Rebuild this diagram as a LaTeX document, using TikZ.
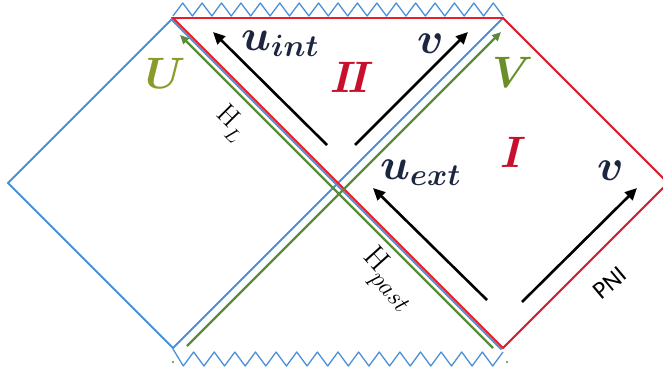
\RequirePackage{fix-cm}
\documentclass[tikz,border=0pt]{standalone}
\usepackage{fontspec}
\newfontfamily\carlito{Carlito}
\usetikzlibrary{arrows.meta}
\definecolor{pblue}{HTML}{4A90D9}
\definecolor{pred}{HTML}{E3202B}
\definecolor{pgreen}{HTML}{5A8A3C}
\definecolor{lnavy}{HTML}{1C2640}
\definecolor{lred}{HTML}{C8102E}
\definecolor{lolive}{HTML}{8C9A2C}
\definecolor{lgreen}{HTML}{6A8F2A}
\newcommand{\hsub}[2]{$\mathrm{H}$\raisebox{-0.32em}{\fontsize{#2}{#2}\selectfont$#1$}}
\tikzset{
  blueline/.style={pblue, line width=1.9pt},
  redline/.style={pred, line width=1.9pt, line join=miter},
  zig/.style={pblue, line width=1.3pt, line join=round},
  greenarrow/.style={pgreen, line width=2.3pt, -{Triangle[length=9pt,width=8pt]}},
  blackarrow/.style={black, line width=2.6pt, -{Triangle[length=12pt,width=11pt]}},
  lbl/.style={inner sep=0pt, anchor=base west},
  big/.style={font=\fontsize{44}{48}\selectfont\boldmath},
  hor/.style={inner sep=0pt},
}
\begin{document}
\begin{tikzpicture}[x=1pt,y=-1pt]
\useasboundingbox (0,0) rectangle (663,380);
\coordinate (L) at (8,183);
\coordinate (TL) at (173,18);
\coordinate (TR) at (503,18);
\coordinate (BL) at (173,348);
\coordinate (BR) at (503,348);
\coordinate (R) at (668,183);
% singularities
\draw[zig] (173,16) \foreach \k in {1,...,17} { -- ({173+(\k-0.5)*330/17},3) -- ({173+\k*330/17},16) };
\draw[zig] (173,349) \foreach \k in {1,...,16} { -- ({173+(\k-0.5)*20.625},366) -- ({173+\k*20.625},352) };
% blue Penrose diagram
\draw[blueline] (TL) -- (L) -- (BL) -- (TR) -- (R) -- (BR);
\draw[blueline] ([shift={(-1.5,1.5)}]TL) -- ([shift={(-1.5,1.5)}]BR);
% red region I + II
\draw[redline] (TL) -- (TR) -- (R) -- (BR) -- cycle;
% green horizons
\coordinate (U0) at (493,348);
\coordinate (U1) at (180,35);
\coordinate (V0) at (187,346);
\coordinate (V1) at (501,32);
\draw[greenarrow] (U0) -- (U1);
\draw[greenarrow] (V0) -- (V1);
\fill[pgreen] (173,362) circle (1.2);
\fill[pgreen] (507,362) circle (1.2);
% black arrows
\coordinate (a0) at (327,145); \coordinate (a1) at (213,32);
\coordinate (b0) at (355,145); \coordinate (b1) at (468,32);
\coordinate (c0) at (487,300); \coordinate (c1) at (373,188);
\coordinate (d0) at (522,302); \coordinate (d1) at (637,188);
\draw[blackarrow] (a0) -- (a1);
\draw[blackarrow] (b0) -- (b1);
\draw[blackarrow] (c0) -- (c1);
\draw[blackarrow] (d0) -- (d1);
% labels
\node[lbl, big, text=lnavy] (uint) at (241,50) {$u_{int}$};
\node[lbl, big, text=lnavy] (v2) at (417,53) {$v$};
\node[lbl, big, text=lred] (II) at (330,92) {$I\!I$};
\node[lbl, big, text=lred] (I) at (500,167) {$I$};
\node[lbl, big, text=lnavy] (uext) at (380,179) {$u_{ext}$};
\node[lbl, big, text=lnavy] (v1) at (597,180) {$v$};
\node[lbl, big, text=lolive] (U) at (145,88) {$U$};
\node[lbl, big, text=lgreen] (V) at (492,87) {$V$};
\node[hor, rotate=-45, font=\fontsize{28}{30}\selectfont] (HL) at (231,123) {\hsub{L}{20}};
\node[hor, rotate=-48, font=\fontsize{31}{34}\selectfont] (Hp) at (387,280) {\hsub{past}{25}};
\node[inner sep=0pt, rotate=40, font=\carlito\fontsize{25}{28}\selectfont] (PNI) at (610,283) {PNI};
\end{tikzpicture}
\end{document}
